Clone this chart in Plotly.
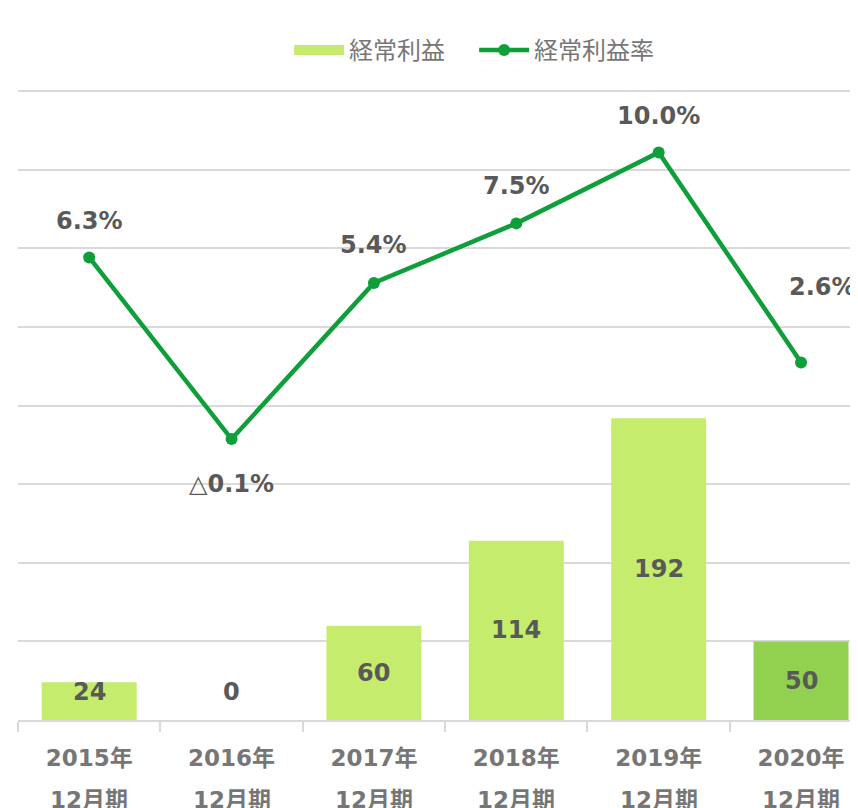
import plotly.graph_objects as go

years = ["2015年", "2016年", "2017年", "2018年", "2019年", "2020年"]
period = ["12月期"] * 6
profit = [24, 0, 60, 114, 192, 50]
rate = [6.3, -0.1, 5.4, 7.5, 10.0, 2.6]
rate_labels = ["6.3%", "△0.1%", "5.4%", "7.5%", "10.0%", "2.6%"]

bar_colors = ["#c5ec6c"] * 5 + ["#92d050"]
label_gray = "#595959"
tick_gray = "#767676"
grid = "#d9d9d9"
green = "#0f9f3a"
fam = "DejaVu Sans, Noto Sans CJK JP"

fig = go.Figure()
fig.add_trace(go.Bar(x=years, y=profit, name="経常利益", marker=dict(color=bar_colors, line_width=0),
                     width=0.667, yaxis="y", showlegend=False, legendgroup="p"))
# legend entry for the bars (wide swatch like the original)
fig.add_trace(go.Scatter(x=[None], y=[None], name="経常利益", mode="lines",
                         line=dict(color=bar_colors[0], width=15), legendgroup="p", yaxis="y"))
fig.add_trace(go.Scatter(x=years, y=rate, name="経常利益率", mode="lines+markers",
                         line=dict(color=green, width=4.5), marker=dict(size=12, color=green),
                         yaxis="y2"))

ann = []
offs = [(0, 36), (0, -45), (0, 38), (0, 37), (0, 36), (21, 75)]
for i, (t, v) in enumerate(zip(rate_labels, rate)):
    dx, dy = offs[i]
    if t.startswith("△"):
        txt = "△<b>" + t[1:] + "</b>"
    else:
        txt = "<b>" + t + "</b>"
    ann.append(dict(x=years[i], y=v, xref="x", yref="y2", text=txt, showarrow=False,
                    xshift=dx, yshift=dy, font=dict(size=24, color=label_gray, family=fam)))
for i, v in enumerate(profit):
    ann.append(dict(x=years[i], y=max(v / 2, 18), xref="x", yref="y", text="<b>%d</b>" % v,
                    showarrow=False, font=dict(size=24, color=label_gray, family=fam)))
for i, p in enumerate(period):
    ann.append(dict(x=years[i], y=0, xref="x", yref="paper", text="<b>" + p + "</b>", showarrow=False,
                    yshift=-80, yanchor="middle", font=dict(size=23, color=tick_gray, family=fam)))

fig.update_layout(
    width=850, height=800,
    margin=dict(l=10, r=0, t=82, b=88),
    plot_bgcolor="white", paper_bgcolor="white",
    showlegend=True,
    legend=dict(orientation="h", x=0.543, xanchor="center", y=1.063, yanchor="middle",
                font=dict(size=24, color=tick_gray, family="Noto Sans CJK JP"),
                itemwidth=50, entrywidth=120, bgcolor="rgba(0,0,0,0)"),
    xaxis=dict(type="category", range=[-0.5, 5.4],
               tickfont=dict(size=23, color=tick_gray, family=fam, weight="bold"),
               ticks="outside", tickson="boundaries", ticklen=10, tickcolor=grid, tickwidth=2,
               ticklabelstandoff=16,
               showline=True, linecolor=grid, linewidth=2, showgrid=False, zeroline=False),
    yaxis=dict(range=[0, 400.8], tick0=0, dtick=50, showgrid=True, gridcolor=grid, gridwidth=2,
               showticklabels=False, zeroline=False, showline=False, ticks=""),
    yaxis2=dict(range=[-10, 12.2], overlaying="y", side="right", showgrid=False,
                showticklabels=False, zeroline=False, showline=False, ticks=""),
    annotations=ann,
    bargap=0.333,
)

fig.write_html("out.html")
